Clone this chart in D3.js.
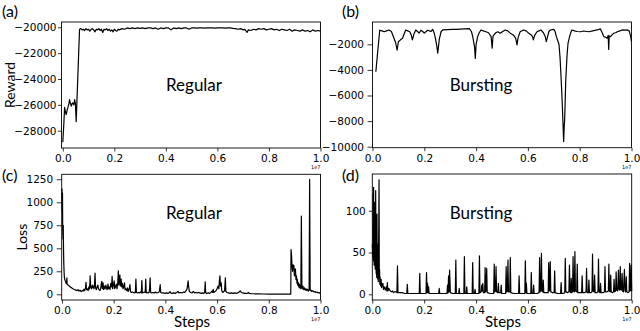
<!DOCTYPE html>
<html>
<head>
<meta charset="utf-8">
<script src="https://cdn.jsdelivr.net/npm/d3@7"></script>
<style>
  body { margin: 0; background: #fff; }
  .tick text { font-family: "DejaVu Sans", sans-serif; font-size: 10.5px; fill: #000; }
  .tick line { stroke: #000; stroke-width: 0.8; }
  .lbl { font-family: Lato, "Open Sans", sans-serif; fill: #000; }
</style>
</head>
<body>
<svg id="chart" width="640" height="331"></svg>
<script>
// x values are training steps in units of 1e7
const stepTicks = [0, 0.2, 0.4, 0.6, 0.8, 1.0];
const rewardRegularTicks = [-28000, -26000, -24000, -22000, -20000];
const rewardBurstingTicks = [-10000, -8000, -6000, -4000, -2000];
const lossRegularTicks = [0, 250, 500, 750, 1000, 1250];
const lossBurstingTicks = [0, 50, 100];

// (a) reward, regular traffic
const rewardRegular = [
  [0.000,-28900],[0.004,-27500],[0.007,-26200],[0.010,-26500],[0.013,-26750],[0.017,-26400],[0.020,-26200],
  [0.024,-25900],[0.026,-25600],[0.030,-25900],[0.033,-26100],[0.036,-25900],[0.039,-25850],[0.043,-26000],
  [0.046,-25600],[0.049,-25900],[0.052,-27300],[0.065,-20150],
  [0.070,-20100],[0.075,-20200],[0.080,-20150],[0.085,-20250],[0.090,-20100],[0.095,-20200],[0.100,-20150],
  [0.105,-20300],[0.110,-20150],[0.115,-20100],[0.120,-20200],[0.125,-20350],[0.130,-20150],[0.135,-20200],
  [0.140,-20100],[0.145,-20250],[0.150,-20150],[0.155,-20400],[0.160,-20150],[0.165,-20200],[0.170,-20100],
  [0.175,-20250],[0.180,-20150],[0.185,-20300],[0.190,-20200],[0.195,-20350],[0.200,-20150],[0.205,-20250],
  [0.210,-20300],[0.215,-20150],[0.220,-20200],[0.230,-20100],[0.240,-20150],[0.250,-20050],[0.260,-20100],
  [0.270,-20050],[0.280,-20100],[0.290,-20050],[0.300,-20080],[0.310,-20050],[0.320,-20100],[0.330,-20050],
  [0.340,-20050],[0.350,-20100],[0.360,-20050],[0.370,-20150],[0.380,-20050],[0.390,-20100],[0.400,-20050],
  [0.410,-20050],[0.420,-20200],[0.430,-20050],[0.440,-20100],[0.450,-20050],[0.460,-20100],[0.470,-20050],
  [0.480,-20050],[0.490,-20150],[0.500,-20050],[0.510,-20050],[0.520,-20060],[0.530,-20050],[0.540,-20050],
  [0.550,-20060],[0.560,-20050],[0.570,-20050],[0.580,-20050],[0.590,-20060],[0.600,-20050],[0.610,-20050],
  [0.620,-20050],[0.630,-20060],[0.640,-20050],[0.650,-20050],[0.660,-20080],[0.670,-20100],[0.680,-20150],
  [0.690,-20100],[0.700,-20200],[0.705,-20150],[0.710,-20250],[0.715,-20400],[0.720,-20200],[0.730,-20250],
  [0.740,-20150],[0.750,-20200],[0.760,-20100],[0.770,-20150],[0.780,-20100],[0.790,-20200],[0.800,-20150],
  [0.810,-20100],[0.820,-20200],[0.830,-20150],[0.840,-20250],[0.850,-20150],[0.860,-20200],[0.870,-20250],
  [0.880,-20150],[0.890,-20300],[0.900,-20200],[0.910,-20250],[0.920,-20300],[0.930,-20200],[0.940,-20300],
  [0.950,-20250],[0.960,-20350],[0.970,-20200],[0.980,-20300],[0.990,-20250],[1.000,-20300]
];

// (b) reward, bursting traffic
const rewardBursting = [
  [0.013,-4150],[0.020,-2600],[0.028,-900],[0.037,-950],[0.045,-1020],[0.054,-950],[0.064,-880],[0.073,-1000],
  [0.083,-1530],[0.090,-1920],[0.095,-2450],[0.100,-1800],[0.108,-1650],[0.116,-1530],[0.128,-880],[0.136,-950],
  [0.144,-1020],[0.150,-1300],[0.154,-1660],[0.160,-1200],[0.167,-880],[0.174,-1000],[0.180,-1130],[0.187,-900],
  [0.194,-1000],[0.200,-1130],[0.207,-1000],[0.213,-900],[0.220,-950],[0.226,-1000],[0.232,-830],[0.238,-1100],
  [0.243,-1530],[0.248,-2100],[0.252,-2700],[0.258,-1600],[0.265,-1000],[0.271,-880],[0.290,-860],[0.310,-830],
  [0.323,-830],[0.340,-810],[0.355,-800],[0.374,-780],[0.382,-1000],[0.387,-1400],[0.394,-2200],[0.397,-3100],
  [0.400,-2000],[0.406,-1400],[0.412,-1100],[0.419,-880],[0.428,-950],[0.438,-1020],[0.448,-1100],[0.458,-1400],
  [0.462,-2300],[0.465,-1400],[0.467,-1300],[0.476,-1100],[0.484,-1020],[0.493,-1130],[0.503,-1000],[0.512,-880],
  [0.522,-950],[0.532,-1130],[0.545,-1300],[0.553,-1530],[0.558,-2050],[0.562,-1500],[0.570,-1020],[0.583,-880],
  [0.593,-950],[0.603,-1130],[0.612,-1250],[0.618,-1400],[0.621,-1660],[0.626,-1300],[0.635,-1020],[0.643,-950],
  [0.650,-880],[0.660,-1100],[0.667,-1400],[0.671,-1800],[0.676,-1400],[0.681,-1000],[0.687,-880],[0.694,-850],
  [0.700,-830],[0.705,-1000],[0.710,-1400],[0.715,-1700],[0.720,-2000],[0.724,-3000],[0.728,-4530],[0.732,-6300],
  [0.735,-7900],[0.738,-9600],[0.740,-8500],[0.742,-7900],[0.746,-4900],[0.751,-2900],[0.755,-1900],[0.761,-1400],
  [0.766,-1050],[0.770,-880],[0.780,-950],[0.790,-1000],[0.803,-1020],[0.815,-960],[0.835,-1020],[0.850,-950],
  [0.867,-880],[0.880,-800],[0.887,-1100],[0.893,-1400],[0.900,-1450],[0.906,-1530],[0.910,-1300],[0.912,-2400],
  [0.914,-1350],[0.919,-1400],[0.926,-1250],[0.932,-1130],[0.939,-1100],[0.945,-1020],[0.955,-950],[0.964,-880],
  [0.975,-900],[0.984,-880],[0.991,-950],[0.997,-1400],[1.000,-1800]
];

// (c) loss, regular traffic
const lossRegular = [
  [0.000,1150],[0.001,900],[0.002,1100],[0.003,700],[0.004,600],[0.005,750],[0.006,500],[0.007,350],[0.008,260],
  [0.009,200],[0.010,170],[0.012,150],[0.014,140],[0.016,120],[0.018,115],[0.019,180],[0.020,110],[0.023,100],
  [0.026,95],[0.030,85],[0.034,75],[0.038,70],[0.042,60],[0.046,55],[0.050,50],[0.054,45],[0.058,40],[0.062,50],
  [0.066,35],[0.070,45],[0.074,30],[0.078,40],[0.082,35],[0.085,55],[0.088,40],[0.091,70],[0.093,130],[0.095,50],
  [0.098,60],[0.101,40],[0.104,80],[0.106,55],[0.108,120],[0.109,200],[0.111,80],[0.114,60],[0.117,100],[0.119,70],
  [0.122,90],[0.124,60],[0.126,110],[0.128,230],[0.130,70],[0.133,50],[0.136,80],[0.139,100],[0.141,60],[0.144,50],
  [0.147,40],[0.150,70],[0.153,130],[0.154,140],[0.156,60],[0.159,125],[0.161,50],[0.164,90],[0.167,60],[0.170,100],
  [0.172,70],[0.175,50],[0.178,110],[0.180,60],[0.183,80],[0.186,50],[0.189,120],[0.192,80],[0.194,195],[0.196,60],
  [0.199,100],[0.202,145],[0.204,60],[0.207,80],[0.210,110],[0.213,60],[0.216,130],[0.218,255],[0.220,100],
  [0.222,150],[0.224,210],[0.226,90],[0.229,165],[0.231,80],[0.234,120],[0.236,60],[0.239,80],[0.242,125],
  [0.244,50],[0.247,60],[0.250,40],[0.253,70],[0.256,30],[0.260,60],[0.263,105],[0.265,30],[0.269,20],[0.273,25],
  [0.277,20],[0.281,15],[0.284,20],[0.286,165],[0.288,20],[0.292,15],[0.296,20],[0.300,15],[0.304,25],[0.307,15],
  [0.309,150],[0.311,15],[0.315,20],[0.319,25],[0.322,20],[0.324,165],[0.326,15],[0.330,20],[0.334,15],[0.337,20],
  [0.339,60],[0.341,180],[0.343,20],[0.347,15],[0.352,20],[0.357,15],[0.362,25],[0.367,15],[0.372,20],[0.376,25],
  [0.378,60],[0.380,105],[0.382,20],[0.386,15],[0.392,15],[0.398,10],[0.404,15],[0.410,10],[0.416,20],[0.418,30],
  [0.420,15],[0.426,10],[0.432,15],[0.438,10],[0.444,20],[0.449,30],[0.452,15],[0.458,20],[0.464,15],[0.470,25],
  [0.475,20],[0.480,40],[0.484,60],[0.488,145],[0.490,80],[0.493,30],[0.498,20],[0.503,15],[0.508,30],[0.513,15],
  [0.518,20],[0.523,15],[0.528,20],[0.533,15],[0.538,10],[0.543,15],[0.548,10],[0.552,20],[0.554,135],[0.556,15],
  [0.561,10],[0.566,15],[0.571,10],[0.576,20],[0.580,35],[0.583,20],[0.585,55],[0.587,20],[0.592,30],[0.596,40],
  [0.600,60],[0.604,90],[0.607,60],[0.609,150],[0.611,200],[0.613,90],[0.616,125],[0.618,40],[0.622,20],[0.626,30],
  [0.629,40],[0.632,180],[0.634,30],[0.638,20],[0.644,15],[0.650,10],[0.656,15],[0.662,10],[0.668,15],[0.674,10],
  [0.680,15],[0.685,25],[0.690,38],[0.694,20],[0.700,15],[0.706,10],[0.712,10],[0.718,12],[0.721,20],[0.724,10],
  [0.730,8],[0.740,6],[0.750,5],[0.760,4],[0.780,3],[0.800,2],[0.820,2],[0.840,2],[0.860,2],[0.880,2],[0.885,2],
  [0.886,485],[0.888,420],[0.890,300],[0.892,250],[0.894,320],[0.896,280],[0.897,315],[0.899,200],[0.901,260],
  [0.903,275],[0.905,160],[0.907,200],[0.909,120],[0.910,165],[0.912,100],[0.914,130],[0.916,80],[0.918,110],
  [0.920,70],[0.922,100],[0.924,60],[0.926,850],[0.928,80],[0.930,60],[0.932,90],[0.935,50],[0.938,70],[0.941,45],
  [0.944,60],[0.947,40],[0.950,55],[0.953,35],[0.956,50],[0.958,1250],[0.960,40],[0.963,45],[0.966,30],[0.970,40],
  [0.974,25],[0.978,30],[0.982,20],[0.986,25],[0.990,15],[0.994,20],[0.998,10],[1.000,15]
];

// (d) loss, bursting traffic
const lossBursting = [
  [0.000,60],[0.002,45],[0.003,120],[0.004,40],[0.005,128],[0.006,60],[0.007,35],[0.008,110],[0.009,40],[0.010,80],
  [0.011,30],[0.013,124],[0.014,45],[0.015,25],[0.016,70],[0.017,20],[0.018,96],[0.019,25],[0.020,45],[0.021,18],
  [0.022,60],[0.023,15],[0.024,40],[0.026,137],[0.027,20],[0.028,30],[0.029,12],[0.030,21],[0.032,10],[0.034,18],
  [0.036,8],[0.038,12],[0.041,13],[0.043,6],[0.046,9],[0.050,5],[0.054,9],[0.056,4],[0.058,14],[0.060,4],[0.064,7],
  [0.067,5],[0.070,4],[0.074,3],[0.078,4],[0.082,2],[0.086,3],[0.093,3],[0.095,2],[0.097,34],[0.099,2],[0.105,2],
  [0.115,2],[0.125,1],[0.133,1],[0.135,12],[0.137,1],[0.150,1],[0.165,1],[0.181,1],[0.183,25],[0.185,1],[0.195,1],
  [0.207,1],[0.209,26],[0.211,2],[0.213,13],[0.215,2],[0.217,9],[0.219,1],[0.235,1],[0.256,1],[0.258,7],[0.260,1],
  [0.275,1],[0.288,1],[0.290,11],[0.292,2],[0.294,22],[0.296,3],[0.298,29],[0.301,2],[0.310,1],[0.320,1],[0.322,41],
  [0.324,1],[0.333,1],[0.335,7],[0.337,1],[0.353,1],[0.355,45],[0.357,1],[0.362,1],[0.364,9],[0.366,1],[0.385,1],
  [0.387,38],[0.389,1],[0.394,1],[0.396,6],[0.398,1],[0.411,1],[0.413,46],[0.415,2],[0.420,3],[0.422,11],[0.424,4],
  [0.426,13],[0.428,2],[0.433,2],[0.435,32],[0.437,3],[0.439,5],[0.441,31],[0.443,2],[0.455,1],[0.468,1],[0.470,36],
  [0.472,3],[0.475,4],[0.477,33],[0.479,3],[0.484,2],[0.486,13],[0.488,2],[0.495,2],[0.497,11],[0.499,1],[0.514,1],
  [0.516,33],[0.518,3],[0.521,4],[0.523,41],[0.525,3],[0.530,3],[0.532,44],[0.534,2],[0.545,1],[0.555,1],[0.564,1],
  [0.566,22],[0.568,1],[0.578,1],[0.588,1],[0.590,40],[0.592,2],[0.594,13],[0.596,1],[0.611,1],[0.613,26],[0.615,1],
  [0.620,1],[0.622,11],[0.624,1],[0.635,1],[0.643,2],[0.645,44],[0.647,3],[0.650,5],[0.652,49],[0.654,4],[0.657,3],
  [0.659,17],[0.661,2],[0.670,2],[0.678,2],[0.680,38],[0.682,4],[0.684,5],[0.686,39],[0.688,3],[0.694,2],[0.701,2],
  [0.703,28],[0.705,2],[0.715,1],[0.726,1],[0.728,14],[0.730,1],[0.736,1],[0.742,2],[0.744,43],[0.746,3],[0.752,2],
  [0.758,3],[0.760,35],[0.762,3],[0.765,2],[0.767,19],[0.769,2],[0.772,3],[0.774,45],[0.776,4],[0.779,3],[0.781,51],
  [0.783,4],[0.788,3],[0.790,36],[0.792,2],[0.800,2],[0.807,2],[0.809,22],[0.811,2],[0.818,2],[0.824,3],[0.826,31],
  [0.828,2],[0.833,2],[0.835,17],[0.837,2],[0.842,2],[0.847,3],[0.849,48],[0.851,4],[0.855,3],[0.857,23],[0.859,2],
  [0.866,2],[0.870,3],[0.872,42],[0.874,3],[0.878,2],[0.880,13],[0.882,2],[0.890,2],[0.895,3],[0.897,33],[0.899,3],
  [0.905,3],[0.910,4],[0.912,36],[0.914,4],[0.917,3],[0.919,23],[0.921,3],[0.926,2],[0.930,3],[0.932,18],[0.934,3],
  [0.938,4],[0.940,27],[0.942,5],[0.946,4],[0.949,29],[0.951,6],[0.954,5],[0.956,33],[0.958,6],[0.961,5],[0.963,25],
  [0.965,4],[0.968,3],[0.972,30],[0.974,4],[0.977,3],[0.979,21],[0.981,3],[0.986,2],[0.990,3],[0.992,37],[0.994,4],
  [0.996,5],[0.998,35],[1.000,4]
];

const panels = [
  { data: rewardRegular, tag: '(a)', tagX: 2, tagY: 17, note: 'Regular', noteX: 194, noteY: 91,
    left: 61.5, right: 320.5, top: 22, bottom: 148, xDomain: [-0.005, 1.0], yDomain: [-29338, -19590],
    yTicks: rewardRegularTicks, yTickSize: 3.5, yTickPad: 1.5, yLabel: 'Reward', yLabelX: 14.5, xLabel: null },
  { data: rewardBursting, tag: '(b)', tagX: 342, tagY: 17, note: 'Bursting', noteX: 481, noteY: 91,
    left: 372.5, right: 631.5, top: 22, bottom: 147.7, xDomain: [0, 1.0], yDomain: [-10078, -258],
    yTicks: rewardBurstingTicks, yTickSize: 5, yTickPad: 3.5, yLabel: null, xLabel: null },
  { data: lossRegular, tag: '(c)', tagX: 2, tagY: 181, note: 'Regular', noteX: 194, noteY: 219,
    left: 61.7, right: 320.5, top: 174.3, bottom: 300, xDomain: [-0.001, 1.0], yDomain: [-62, 1304],
    yTicks: lossRegularTicks, yTickSize: 5, yTickPad: 3.5, yLabel: 'Loss', yLabelX: 27, xLabel: 'Steps' },
  { data: lossBursting, tag: '(d)', tagX: 342, tagY: 181, note: 'Bursting', noteX: 481, noteY: 219,
    left: 372.3, right: 631.7, top: 174, bottom: 300, xDomain: [0, 1.0], yDomain: [-6.8, 143.9],
    yTicks: lossBurstingTicks, yTickSize: 3.5, yTickPad: 3, yLabel: null, xLabel: 'Steps' }
];

const svg = d3.select('#chart');

panels.forEach(p => {
  const x = d3.scaleLinear().domain(p.xDomain).range([p.left, p.right]);
  const y = d3.scaleLinear().domain(p.yDomain).range([p.bottom, p.top]);
  const g = svg.append('g');

  // the curve
  g.append('path')
    .datum(p.data)
    .attr('fill', 'none')
    .attr('stroke', '#000')
    .attr('stroke-width', 1.2)
    .attr('stroke-linejoin', 'round')
    .attr('d', d3.line().x(d => x(d[0])).y(d => y(d[1])));

  // axes
  const xAxis = g.append('g')
    .attr('transform', `translate(0,${p.bottom})`)
    .call(d3.axisBottom(x).tickValues(stepTicks).tickFormat(d3.format('.1f')).tickSize(3.5).tickPadding(3.5));
  const yAxis = g.append('g')
    .attr('transform', `translate(${p.left},0)`)
    .call(d3.axisLeft(y).tickValues(p.yTicks).tickFormat(d3.format('d')).tickSize(p.yTickSize).tickPadding(p.yTickPad));
  xAxis.select('.domain').remove();
  yAxis.select('.domain').remove();

  // frame
  g.append('rect')
    .attr('x', p.left).attr('y', p.top)
    .attr('width', p.right - p.left).attr('height', p.bottom - p.top)
    .attr('fill', 'none').attr('stroke', '#000').attr('stroke-width', 0.9);

  // offset text
  g.append('text')
    .attr('x', p.right).attr('y', p.bottom + 21)
    .attr('text-anchor', 'end')
    .style('font-family', '"DejaVu Sans", sans-serif')
    .style('font-size', '5px')
    .text('1e7');

  g.append('text').attr('class', 'lbl')
    .attr('x', p.tagX).attr('y', p.tagY)
    .style('font-size', '16px')
    .text(p.tag);

  g.append('text').attr('class', 'lbl')
    .attr('x', p.noteX).attr('y', p.noteY)
    .attr('text-anchor', 'middle')
    .style('font-size', '17px')
    .text(p.note);

  if (p.yLabel) {
    g.append('text').attr('class', 'lbl')
      .attr('transform', `translate(${p.yLabelX},${(p.top + p.bottom) / 2}) rotate(-90)`)
      .attr('text-anchor', 'middle')
      .style('font-size', '14px')
      .text(p.yLabel);
  }
  if (p.xLabel) {
    g.append('text').attr('class', 'lbl')
      .attr('x', (p.left + p.right) / 2 + 1).attr('y', 327)
      .attr('text-anchor', 'middle')
      .style('font-size', '15px')
      .text(p.xLabel);
  }
});
</script>
</body>
</html>
